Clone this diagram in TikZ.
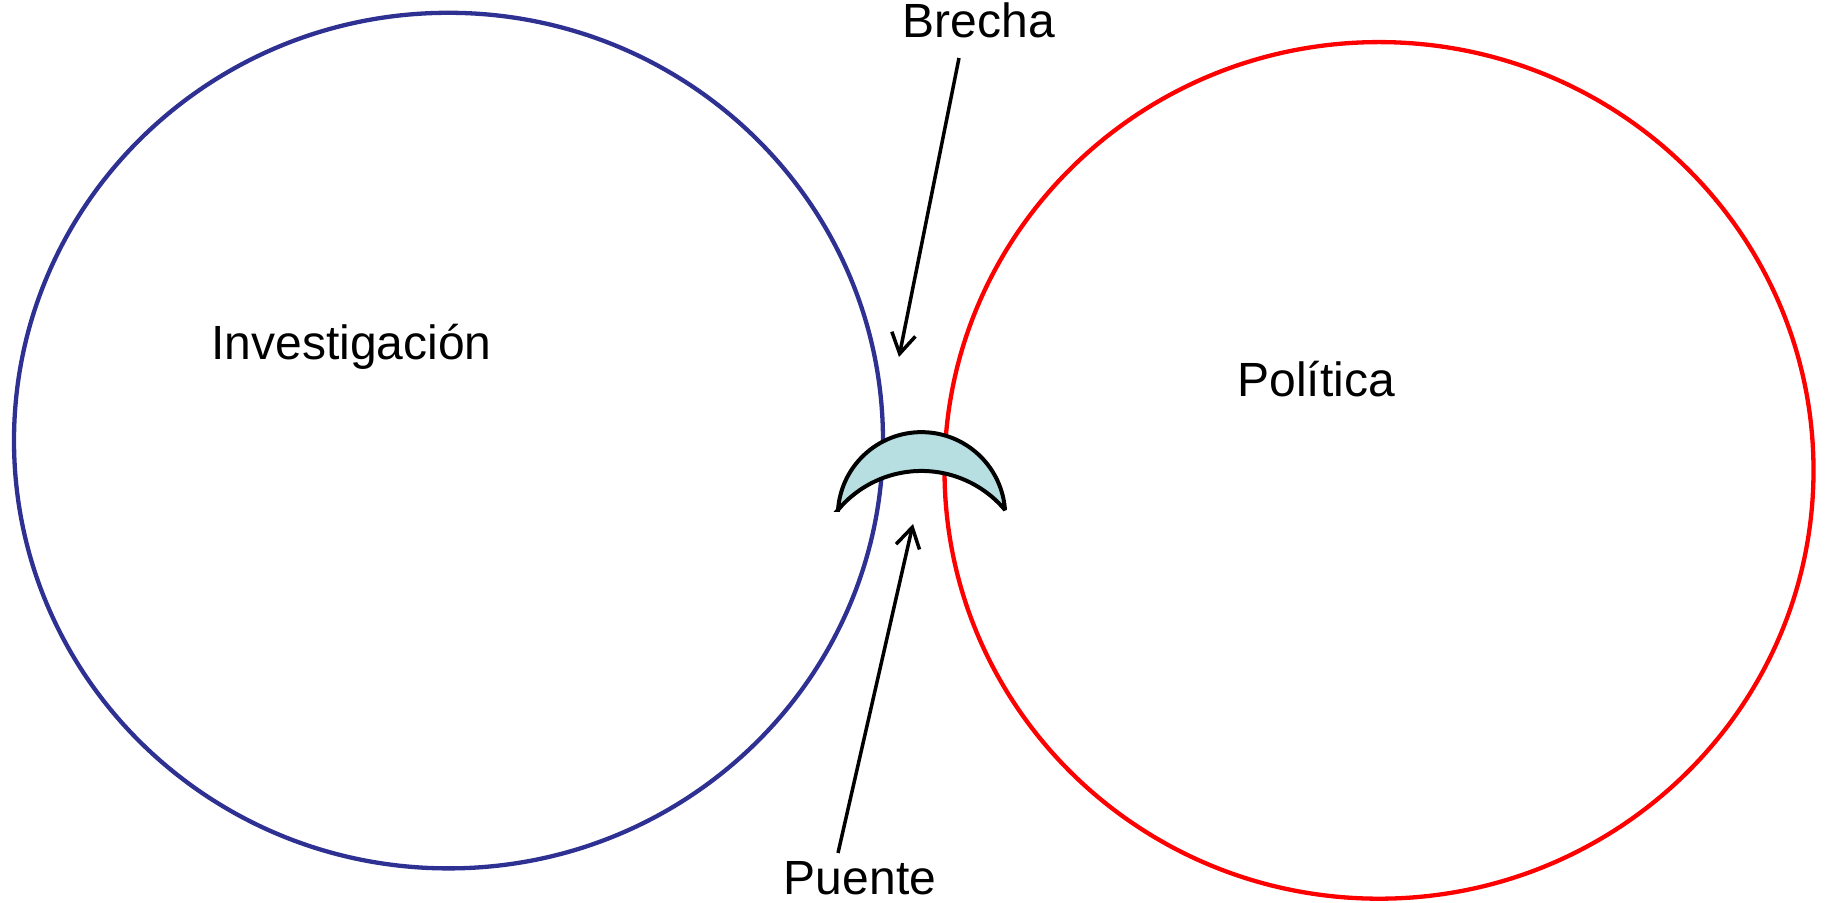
\documentclass[tikz,border=0pt]{standalone}
\usepackage{fontspec}
\setmainfont{Liberation Sans}
\usetikzlibrary{arrows.meta}
\definecolor{invblue}{RGB}{46,49,146}
\definecolor{polred}{RGB}{255,0,0}
\definecolor{bridgefill}{RGB}{183,222,225}
\tikzset{
  bigcircle/.style={line width=4.3pt},
  lbl/.style={anchor=base, inner sep=0pt, font=\fontsize{48}{56}\selectfont},
  pointer/.style={line width=3.5pt, -{Straight Barb[length=20pt,width=24pt,line width=3.5pt]}},
  bridge/.style={draw=black, line width=4pt, fill=bridgefill, line join=miter, miter limit=3}
}
\begin{document}
\begin{tikzpicture}[x=1pt,y=1pt]
\useasboundingbox (0,0) rectangle (1830,902);
% circles
\draw[bigcircle, draw=invblue] (448.5,461.4) ellipse [x radius=434.5, y radius=427.8];
\draw[bigcircle, draw=polred] (1379,431.6) ellipse [x radius=434.5, y radius=428.3];
% bridge (crescent)
\coordinate (ltip) at (838,392);
\coordinate (rtip) at (1005,392);
\draw[bridge] (ltip) arc[start angle=176, end angle=4, radius=83.7]
  arc[start angle=39.9, end angle=140.1, radius=108.9] -- cycle;
% labels
\node[lbl] (inv) at (351.5,542) {Investigación};
\node[lbl] (pol) at (1316,505) {Política};
\node[lbl] (bre) at (979,864) {Brecha};
\node[lbl] (pue) at (860,8) {Puente};
% arrows
\coordinate (bstart) at (959,844);
\coordinate (bend) at (899,545);
\coordinate (pstart) at (838,49);
\coordinate (pend) at (913,378);
\draw[pointer] (bstart) -- (bend);
\draw[pointer] (pstart) -- (pend);
\end{tikzpicture}
\end{document}
